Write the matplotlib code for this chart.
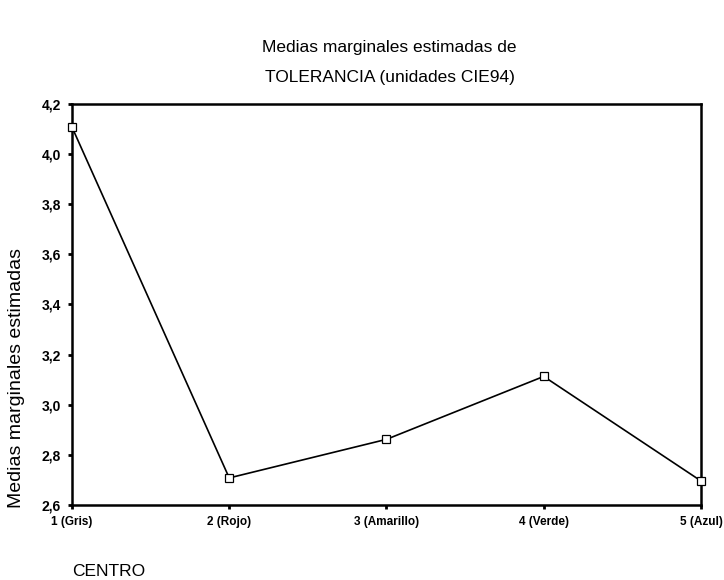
import matplotlib
matplotlib.use("Agg")
from matplotlib import pyplot as plt

# datos
centros = ['1 (Gris)', '2 (Rojo)', '3 (Amarillo)', '4 (Verde)', '5 (Azul)']
medias = [4.108, 2.708, 2.862, 3.113, 2.696]
yticks = [2.6, 2.8, 3.0, 3.2, 3.4, 3.6, 3.8, 4.0, 4.2]
ytick_labels = ['2,6', '2,8', '3,0', '3,2', '3,4', '3,6', '3,8', '4,0', '4,2']

plt.rcParams['font.family'] = ['Liberation Sans', 'DejaVu Sans']

fig = plt.figure(figsize=(7.24, 5.8), dpi=100)
ax = fig.add_axes([0.0994, 0.1293, 0.8688, 0.6914])

x = list(range(len(centros)))
ax.plot(x, medias, color='black', lw=1.2, marker='s', markersize=6,
        markerfacecolor='white', markeredgecolor='black', markeredgewidth=0.9,
        clip_on=False, zorder=3)

ax.set_xlim(0, len(centros) - 1)
ax.set_ylim(2.6, 4.2)
ax.set_xticks(x)
ax.set_xticklabels(centros, fontsize=8.5, fontweight='bold')
ax.set_yticks(yticks)
ax.set_yticklabels(ytick_labels, fontsize=10, fontweight='bold')
ax.tick_params(length=3, width=2, direction='out')
ax.tick_params(axis='x', pad=5)
ax.tick_params(axis='y', pad=5)
for s in ax.spines.values():
    s.set_linewidth(1.8)

ax.set_ylabel('Medias marginales estimadas', fontsize=14)
ax.yaxis.set_label_coords(-0.075, 0.317)

fig.text(0.538, 0.918, 'Medias marginales estimadas de', ha='center', va='center', fontsize=12.5)
fig.text(0.538, 0.867, 'TOLERANCIA (unidades CIE94)', ha='center', va='center', fontsize=12.5)
fig.text(0.0994, 0.015, 'CENTRO', ha='left', va='center', fontsize=12.5)

fig.savefig('out.png', dpi=100)
